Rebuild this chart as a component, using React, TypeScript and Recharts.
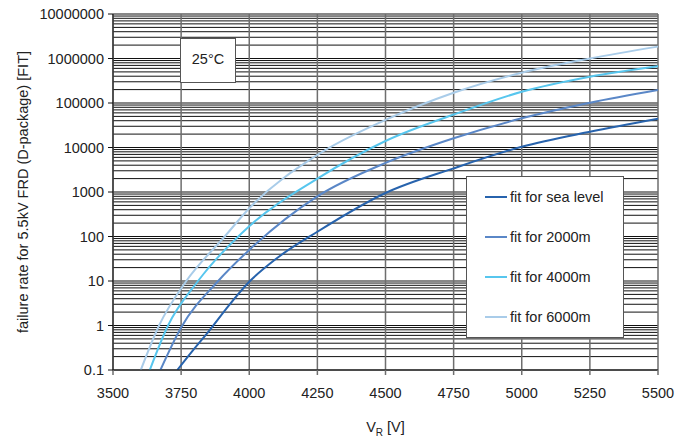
import { CartesianGrid, Legend, Line, LineChart, XAxis, YAxis } from "recharts";

// reverse voltage axis (V) and log failure-rate axis (FIT)
const voltageTicks = [3500, 3750, 4000, 4250, 4500, 4750, 5000, 5250, 5500];
const decadeTicks = [0.1, 1, 10, 100, 1000, 10000, 100000, 1000000, 10000000];
const gridSteps = [1, 2, 3, 4, 5, 6, 7, 8, 9];

// fit for sea level
const seaLevelV = [3736, 3794, 3855, 3916, 4000, 4100, 4250, 4500, 4750, 5000, 5250, 5500];
const seaLevelFit = [0.1, 0.28, 0.79, 2.4, 9.6, 32, 128, 950, 3400, 10400, 22600, 44400];

// fit for 2000m
const alt2000V = [3674, 3750, 3886, 4000, 4250, 4500, 4750, 5000, 5250, 5500];
const alt2000Fit = [0.1, 0.9, 10, 50, 800, 4500, 16100, 45300, 101600, 196000];

// fit for 4000m
const alt4000V = [3635, 3702, 3812, 4000, 4250, 4500, 4750, 5000, 5250, 5500];
const alt4000Fit = [0.1, 1, 10, 170, 2000, 14000, 55000, 179000, 390000, 670000];

// fit for 6000m
const alt6000V = [3602, 3669, 3769, 3910, 4000, 4250, 4500, 4750, 5000, 5250, 5500];
const alt6000Fit = [0.1, 1, 10, 100, 430, 6800, 41600, 170000, 480000, 1000000, 1850000];

const toPoints = (v: number[], fit: number[]) => v.map((x, i) => ({ v: x, fit: fit[i] }));

const series = [
  { name: "fit for sea level", color: "#2763ad", data: toPoints(seaLevelV, seaLevelFit) },
  { name: "fit for 2000m", color: "#5a87c7", data: toPoints(alt2000V, alt2000Fit) },
  { name: "fit for 4000m", color: "#57c6ee", data: toPoints(alt4000V, alt4000Fit) },
  { name: "fit for 6000m", color: "#a9cce9", data: toPoints(alt6000V, alt6000Fit) },
];

// 1..9 lines inside every decade, plus the top edge
const gridValues = decadeTicks
  .slice(0, -1)
  .flatMap((d) => gridSteps.map((m) => m * d))
  .concat(decadeTicks[decadeTicks.length - 1]);

const font = "'Liberation Sans', Arial, sans-serif";
const textColor = "#222";
const fontSize = 14.5;

const LegendBox = () => (
  <div
    style={{
      background: "#fff",
      border: "1px solid #555",
      boxSizing: "border-box",
      height: 162,
      fontFamily: font,
    }}
  >
    {series.map((s) => (
      <div key={s.name} style={{ display: "flex", alignItems: "center", height: 40, paddingLeft: 18 }}>
        <span style={{ width: 22, height: 2, background: s.color, marginRight: 3 }} />
        <span style={{ fontSize, color: textColor }}>{s.name}</span>
      </div>
    ))}
  </div>
);

const XTitle = (props: any) => {
  const { x, y, width } = props.viewBox;
  return (
    <text x={x + width / 2} y={y + 62} textAnchor="middle" fontSize={fontSize} fill={textColor} fontFamily={font}>
      V
      <tspan fontSize={10} dy={4}>R</tspan>
      <tspan dy={-4}> [V]</tspan>
    </text>
  );
};

const YTitle = (props: any) => {
  const { y, height } = props.viewBox;
  const cy = y + height / 2;
  return (
    <text
      x={28}
      y={cy}
      transform={`rotate(-90, 28, ${cy})`}
      textAnchor="middle"
      fontSize={fontSize}
      fill={textColor}
      fontFamily={font}
    >
      failure rate for 5.5kV FRD (D-package) [FIT]
    </text>
  );
};

export default function App() {
  return (
    <div style={{ position: "absolute", left: 0, top: 0, width: 692, height: 439, background: "#fff", fontFamily: font }}>
      <LineChart width={692} height={439} margin={{ top: 14, right: 34, bottom: 0, left: 0 }}>
        <CartesianGrid vertical={false} stroke="#111" strokeWidth={1} horizontalValues={gridValues} syncWithTicks />
        <CartesianGrid horizontal={false} stroke="#6e6e6e" strokeWidth={1.5} />
        <XAxis
          type="number"
          dataKey="v"
          domain={[3500, 5500]}
          ticks={voltageTicks}
          interval={0}
          allowDataOverflow
          height={69}
          tickSize={5}
          tickMargin={13}
          tick={{ fontSize, fill: textColor, fontFamily: font }}
          tickLine={{ stroke: "#6e6e6e", strokeWidth: 1.5 }}
          axisLine={{ stroke: "#111" }}
          label={XTitle}
        />
        <YAxis
          scale="log"
          domain={[0.1, 10000000]}
          ticks={decadeTicks}
          interval={0}
          allowDataOverflow
          width={113}
          tickSize={5}
          tickMargin={4}
          tickFormatter={(v: number) => String(v)}
          tick={{ fontSize, fill: textColor, fontFamily: font }}
          tickLine={{ stroke: "#111" }}
          axisLine={{ stroke: "#111" }}
          label={YTitle}
        />
        {series.map((s) => (
          <Line
            key={s.name}
            name={s.name}
            data={s.data}
            dataKey="fit"
            type="monotone"
            stroke={s.color}
            strokeWidth={2}
            dot={false}
            activeDot={false}
            isAnimationActive={false}
          />
        ))}
        <Legend
          layout="vertical"
          align="center"
          verticalAlign="middle"
          wrapperStyle={{ left: 466, top: 176, width: 158 }}
          content={LegendBox}
        />
      </LineChart>
      <div
        style={{
          position: "absolute",
          left: 180,
          top: 38,
          width: 56,
          height: 45,
          boxSizing: "border-box",
          border: "1px solid #555",
          background: "#fff",
          display: "flex",
          alignItems: "center",
          justifyContent: "center",
          paddingBottom: 4,
          fontSize,
          color: textColor,
        }}
      >
        25°C
      </div>
    </div>
  );
}
